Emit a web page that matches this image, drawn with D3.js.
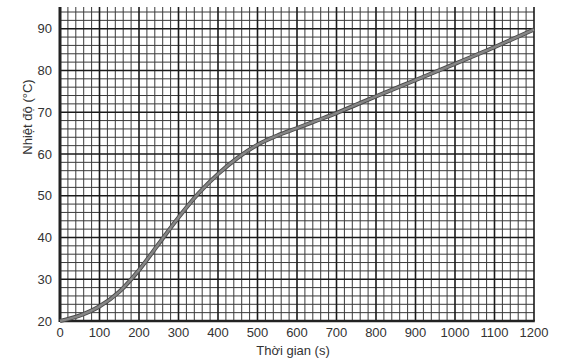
<!DOCTYPE html>
<html>
<head>
<meta charset="utf-8">
<script src="https://cdn.jsdelivr.net/npm/d3@7"></script>
<style>
  body { margin: 0; background: #fff; }
  text { font-family: "Liberation Sans", Arial, sans-serif; fill: #333; }
</style>
</head>
<body>
<svg id="chart" width="586" height="363"></svg>
<script>
const timeValues = [0, 50, 100, 150, 200, 250, 300, 350, 400, 450, 500, 550, 600, 650, 700, 750, 800, 900, 1000, 1100, 1200];
const tempValues = [20, 21.3, 23.5, 27, 32.2, 38.5, 44.8, 50.5, 55.2, 59.1, 62.2, 64.4, 66.2, 68.0, 69.8, 71.8, 73.8, 77.7, 81.6, 85.6, 89.8];
const xTickLabels = [0, 100, 200, 300, 400, 500, 600, 700, 800, 900, 1000, 1100, 1200];
const yTickLabels = [20, 30, 40, 50, 60, 70, 80, 90];
const xTitle = "Thời gian (s)";
const yTitle = "Nhiệt độ (°C)";

const W = 586, H = 363;
const m = { left: 60, right: 52, top: 7, bottom: 42 };
const svg = d3.select("#chart");
const x = d3.scaleLinear().domain([0, 1200]).range([m.left, W - m.right]);
const y = d3.scaleLinear().domain([20, 95.2]).range([H - m.bottom, m.top]);

const g = svg.append("g");
// minor grid
const xMinor = d3.range(0, 1201, 20);
g.selectAll(".vmin").data(xMinor.filter(v => v % 100 !== 0)).join("line")
  .attr("x1", d => x(d)).attr("x2", d => x(d))
  .attr("y1", y(20)).attr("y2", y(95.2))
  .attr("stroke", "#3a3a3a").attr("stroke-width", 1);
const yMinor = d3.range(20, 95.2, 2);
g.selectAll(".hmin").data(yMinor.filter(v => v % 10 !== 0)).join("line")
  .attr("x1", x(0)).attr("x2", x(1200))
  .attr("y1", d => y(d)).attr("y2", d => y(d))
  .attr("stroke", "#3a3a3a").attr("stroke-width", 1);
// major grid
g.selectAll(".vmaj").data(xTickLabels).join("line")
  .attr("x1", d => x(d)).attr("x2", d => x(d))
  .attr("y1", y(20)).attr("y2", y(95.2))
  .attr("stroke", "#1a1a1a").attr("stroke-width", 1.6);
g.selectAll(".hmaj").data(yTickLabels).join("line")
  .attr("x1", x(0)).attr("x2", x(1200))
  .attr("y1", d => y(d)).attr("y2", d => y(d))
  .attr("stroke", "#1a1a1a").attr("stroke-width", 1.6);
// axes lines
g.append("line").attr("x1", x(0)).attr("x2", x(0)).attr("y1", y(20) + 1).attr("y2", y(95.2))
  .attr("stroke", "#222").attr("stroke-width", 3);
g.append("line").attr("x1", x(0)).attr("x2", x(1200) + 0.8).attr("y1", y(20)).attr("y2", y(20))
  .attr("stroke", "#222").attr("stroke-width", 2.6);

// curve
const line = d3.line().x((d, i) => x(timeValues[i])).y(d => y(d)).curve(d3.curveMonotoneX);
svg.append("path").attr("d", line(tempValues)).attr("fill", "none")
  .attr("stroke", "#4a4a4a").attr("stroke-width", 4.2);
svg.append("path").attr("d", line(tempValues)).attr("fill", "none")
  .attr("stroke", "#858585").attr("stroke-width", 2.4);

// tick labels
svg.selectAll(".xl").data(xTickLabels).join("text")
  .attr("x", d => x(d)).attr("y", 337).attr("text-anchor", "middle")
  .attr("font-size", 13).text(d => d);
svg.selectAll(".yl").data(yTickLabels).join("text")
  .attr("x", m.left - 8).attr("y", d => y(d)).attr("dy", "0.35em").attr("text-anchor", "end")
  .attr("font-size", 13).text(d => d);

svg.append("text").attr("x", 293).attr("y", 355).attr("text-anchor", "middle")
  .attr("font-size", 13).text(xTitle);
svg.append("text").attr("transform", "translate(32,117) rotate(-90)")
  .attr("text-anchor", "middle").attr("font-size", 13).text(yTitle);
</script>
</body>
</html>
